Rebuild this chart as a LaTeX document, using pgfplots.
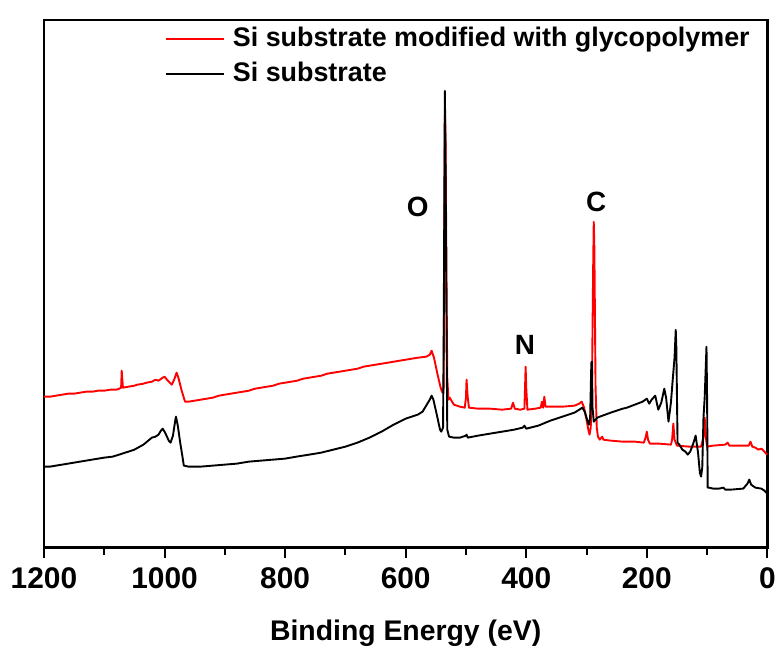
\documentclass[border=0pt]{standalone}
\usepackage{fontspec}
\setmainfont{Liberation Sans}
\usepackage{pgfplots}
\pgfplotsset{compat=1.18}

\definecolor{glyred}{RGB}{255,0,0}

\begin{document}
\begin{tikzpicture}
\begin{axis}[
  width=724bp, height=528bp, scale only axis,
  x dir=reverse,
  xmin=0, xmax=1200, ymin=0, ymax=528,
  axis line style={line width=2.6bp},
  xtick={0,200,...,1200},
  minor xtick={100,300,...,1100},
  xtick pos=bottom, tick align=outside,
  major tick length=10bp, minor tick length=7bp,
  every tick/.style={line width=2bp, black},
  ytick=\empty,
  /pgf/number format/assume math mode=true,
  /pgf/number format/1000 sep={},
  xticklabel style={font=\bfseries\fontsize{30}{32}\selectfont, yshift=-7bp},
  xlabel={Binding Energy (eV)},
  xlabel style={font=\bfseries\fontsize{28.5}{32}\selectfont, yshift=-24bp},
  legend style={at={(0.167,0.992)}, anchor=north west, draw=none, fill=none,
    font=\bfseries\fontsize{27}{30}\selectfont, inner xsep=0pt, inner ysep=0pt,
    nodes={text height=20bp, text depth=6bp, inner ysep=2bp, inner xsep=0bp},
    row sep=5bp, column sep=8bp},
  legend cell align=left,
  legend image code/.code={\draw[#1, line width=2bp] (0bp,0bp) -- (58bp,0bp);},
  clip=true,
]
% modified substrate
\addplot[glyred, line width=1.9bp, line join=round] coordinates {
(1200,151) (1190,151) (1180,152) (1170,153) (1160,154) (1150,154) (1140,155)
(1130,156) (1120,156) (1110,157) (1100,157) (1090,158) (1080,158) (1075,159)
(1072,160) (1071,177) (1069,160) (1060,161) (1050,162) (1045,163) (1035,164)
(1030,165) (1021,166) (1015,168) (1010,167) (1003,170) (1000,171) (996,168)
(988,163) (984,168) (980,175) (977,170) (972,158) (966,146) (960,146) (950,147)
(940,148) (930,149) (920,150) (910,152) (900,153) (890,154) (880,155) (870,156)
(860,157) (850,159) (840,160) (830,161) (820,162) (810,164) (800,165) (790,166)
(780,167) (770,169) (760,170) (750,171) (740,172) (730,174) (720,175) (710,176)
(700,177) (690,178) (680,179) (670,181) (660,182) (650,183) (640,184) (630,185)
(620,186) (610,187) (600,188) (590,189) (580,190) (566,191) (560,193) (557,197)
(553,190) (547,173) (542,160) (539,155) (537,160) (536,300) (535,433) (534,420)
(532,250) (531,170) (529,148) (527,150) (520,143) (510,141) (502,140) (500,150)
(499,168) (497,150) (495,140) (480,139) (460,139) (440,138) (425,139) (422,145)
(419,139) (410,138) (403,139) (402,160) (401,181) (400,160) (398,138) (385,139)
(376,140) (374,146) (372,140) (370,151) (368,141) (360,141) (340,141) (320,142)
(312,144) (308,146) (304,140) (300,128) (297,118) (295,113) (293,120) (291,160)
(289,280) (288,326) (287,300) (285,160) (283,120) (281,111) (278,108) (274,111)
(272,108) (260,107) (240,106) (220,106) (205,105) (202,110) (200,116) (198,108)
(195,104) (180,104) (160,103) (158,108) (156,124) (154,108) (150,102) (130,101)
(110,101) (106,110) (104,130) (102,110) (100,101) (90,102) (70,103) (66,105)
(63,102) (40,102) (31,102) (28,106) (25,101) (20,100) (15,98) (10,99) (5,96)
(2,94) (0,93)
};
\addlegendentry{Si substrate modified with glycopolymer}
% bare substrate
\addplot[black, line width=1.9bp, line join=round] coordinates {
(1200,81) (1190,81) (1180,82) (1170,83) (1160,84) (1150,85) (1140,86) (1130,87)
(1120,88) (1110,89) (1100,90) (1086,91) (1070,94) (1060,96) (1050,98) (1035,103)
(1025,108) (1021,110) (1015,111) (1010,113) (1006,117) (1003,119) (999,115)
(993,107) (990,105) (986,112) (982,128) (981,131) (978,122) (974,105) (970,90)
(968,82) (960,81) (950,81) (940,81) (920,82) (900,83) (880,84) (860,86) (840,87)
(820,88) (800,89) (781,91) (760,93) (740,95) (720,98) (700,101) (680,105)
(660,110) (640,116) (620,123) (600,129) (580,133) (572,136) (566,142) (560,148)
(557,152) (554,148) (548,132) (543,118) (541,116) (538,120) (537,200) (535,457)
(534,400) (532,200) (531,118) (528,111) (520,110) (510,110) (500,112) (499,113)
(497,110) (480,112) (460,114) (440,116) (420,118) (406,120) (403,122) (400,119)
(380,122) (360,127) (340,131) (320,135) (312,138) (307,140) (303,136) (298,126)
(296,123) (294,130) (292,185) (291,186) (290,140) (288,126) (285,128) (282,130)
(278,131) (260,135) (240,139) (233,140) (220,143) (207,146) (200,149) (196,144)
(192,148) (186,152) (181,138) (176,145) (171,159) (168,150) (164,126) (160,145)
(157,168) (154,190) (152,218) (151,200) (149,105) (146,103) (141,98) (136,96)
(132,93) (128,96) (123,104) (119,112) (115,95) (112,75) (110,71) (108,80)
(106,130) (104,150) (101,201) (100,150) (99,60) (97,60) (90,59) (80,59) (73,60)
(70,58) (60,58) (40,59) (33,64) (30,68) (27,63) (20,60) (10,59) (5,57) (2,55)
(0,54)
};
\addlegendentry{Si substrate}
% peak assignments
\node[font=\bfseries\fontsize{28}{30}\selectfont] at (axis cs:580,341) {O};
\node[font=\bfseries\fontsize{28}{30}\selectfont] at (axis cs:284,346) {C};
\node[font=\bfseries\fontsize{28}{30}\selectfont] at (axis cs:402,203) {N};
\end{axis}
\path ([xshift=-44bp,yshift=-107bp]current axis.south west)
  rectangle ([xshift=11bp,yshift=20bp]current axis.north east);
\end{tikzpicture}
\end{document}
